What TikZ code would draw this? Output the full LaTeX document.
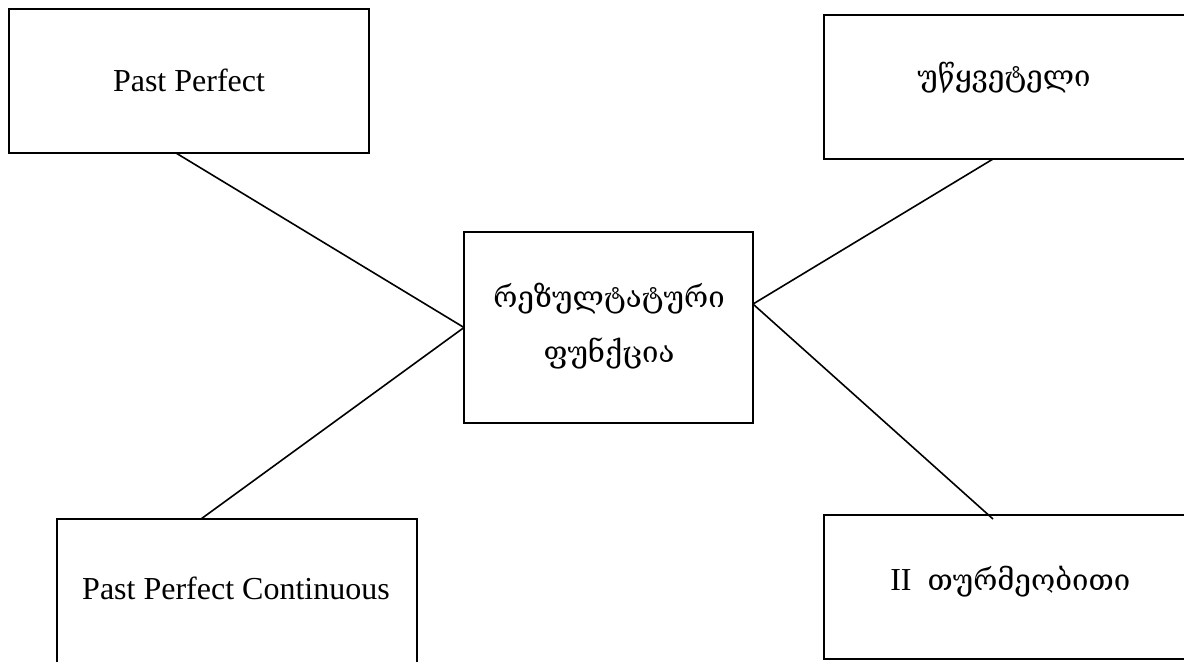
\documentclass[tikz,border=0pt]{standalone}
\usepackage{fontspec}
\setmainfont{Liberation Serif}
\newfontfamily\geo{DejaVu Serif}
\begin{document}
\begin{tikzpicture}[x=0.75pt,y=-0.75pt,
  box/.style={draw,line width=1.3pt,inner sep=0pt,outer sep=0pt},
  lbl/.style={inner sep=0pt,font=\fontsize{24}{30}\selectfont,align=center},
  glbl/.style={inner sep=0pt,font=\fontsize{22}{41}\selectfont\geo,align=center},
  link/.style={line width=1.2pt}]
\useasboundingbox (0,0) rectangle (1184,661);
\clip (0,0) rectangle (1184,661);
% boxes
\node[box,minimum width=270pt,minimum height=108pt] (pp) at (189,81) {};
\node[box,minimum width=274.5pt,minimum height=108pt] (uw) at (1007,87) {};
\node[box,minimum width=216.75pt,minimum height=143.25pt] (rf) at (608.5,327.5) {};
\node[box,minimum width=270pt,minimum height=135.75pt] (ppc) at (237,609.5) {};
\node[box,minimum width=274.5pt,minimum height=108pt] (tm) at (1007,587) {};
% captions
\node[lbl] (ppT) at (189,80) {Past Perfect};
\node[glbl] (uwT) at (1004,78) {უწყვეტელი};
\node[glbl] (rfT) at (609,326) {რეზულტატური\\ფუნქცია};
\node[lbl] (ppcT) at (236,588) {Past Perfect Continuous};
\node[lbl,anchor=west] (tmT) at (890,582) {II \ {\geo\fontsize{22}{26}\selectfont თურმეობითი}};
% connector ends
\coordinate (rfE) at ([yshift=17.6pt]rf.east);
\coordinate (tmIn) at ([xshift=-10.5pt,yshift=-3pt]tm.north);
\draw[link] ([xshift=-9.75pt]pp.south) -- (rf.west);
\draw[link] ([xshift=-27pt]ppc.north) -- (rf.west);
\draw[link] ([xshift=-10.5pt]uw.south) -- (rfE);
\draw[link] (rfE) -- (tmIn);
\end{tikzpicture}
\end{document}
